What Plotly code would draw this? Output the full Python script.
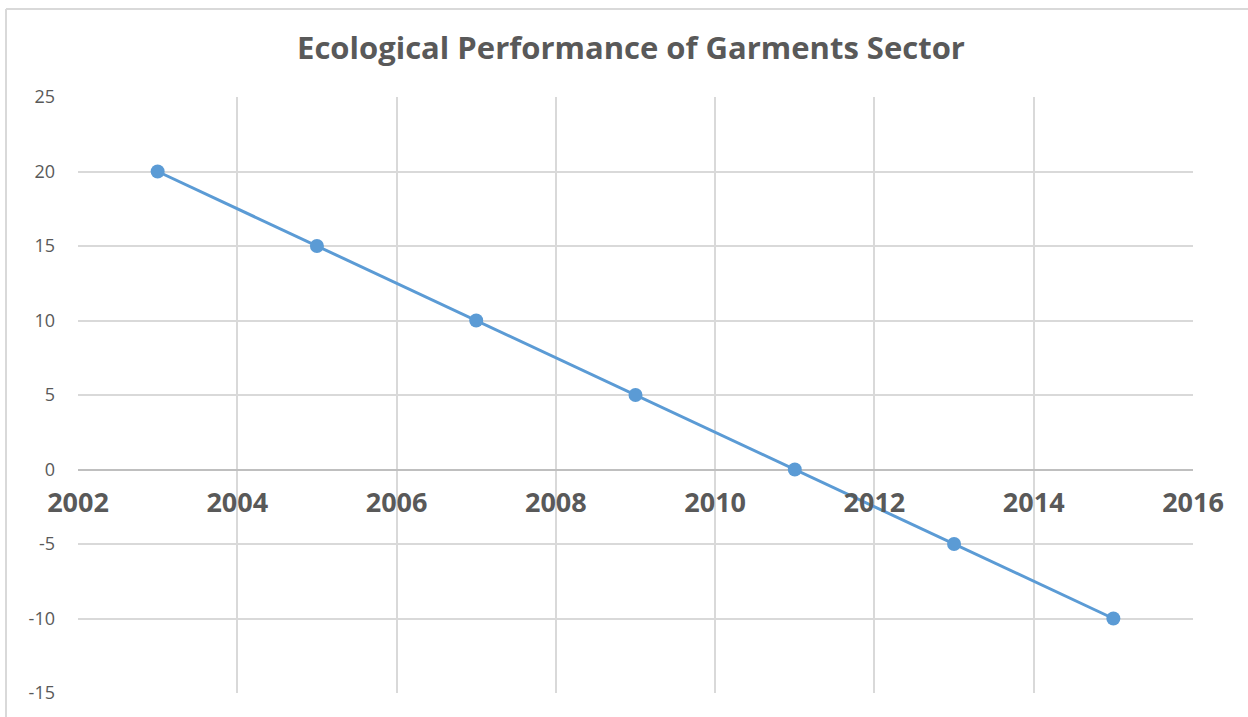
import plotly.graph_objects as go

years = [2003, 2005, 2007, 2009, 2011, 2013, 2015]
values = [20, 15, 10, 5, 0, -5, -10]
x_ticks = [2002, 2004, 2006, 2008, 2010, 2012, 2014, 2016]
y_ticks = [-15, -10, -5, 0, 5, 10, 15, 20, 25]
y_tick_text = ["-15", "-10", "-5", "0", "5", "10", "15", "20", "25"]
title_text = "Ecological Performance of Garments Sector"

W, H = 1248, 717
L, R, T, B = 78, 55, 97, 24
plot_w = W - L - R
plot_h = H - T - B

ymin, ymax = -15, 25
zero_frac = (0 - ymin) / (ymax - ymin)

fig = go.Figure()
fig.add_trace(go.Scatter(
    x=years, y=values, mode="lines+markers",
    line=dict(color="#5b9bd5", width=3),
    marker=dict(color="#5b9bd5", size=14),
    showlegend=False, hoverinfo="x+y",
))
# invisible trace on secondary x axis for the labels at y=0
fig.add_trace(go.Scatter(x=[x_ticks[0], x_ticks[-1]], y=[0, 0], xaxis="x2",
                         mode="markers", marker=dict(opacity=0), showlegend=False,
                         hoverinfo="skip"))

fig.update_layout(
    width=W, height=H,
    margin=dict(l=L, r=R, t=T, b=B),
    paper_bgcolor="white", plot_bgcolor="white",
    font=dict(family="Open Sans, Calibri, sans-serif", color="#595959"),
    title=dict(text=title_text, x=631 / W, xanchor="center",
               y=1 - 48 / H, yanchor="middle", yref="container",
               font=dict(size=31, color="#595959", family="Open Sans", weight="bold")),
    xaxis=dict(range=[x_ticks[0], x_ticks[-1]], tickvals=x_ticks, showticklabels=False,
               showgrid=True, gridcolor="#d9d9d9", gridwidth=1.5, zeroline=False,
               showline=False, fixedrange=True),
    xaxis2=dict(range=[x_ticks[0], x_ticks[-1]], tickvals=x_ticks, overlaying="x",
                anchor="free", position=zero_frac, side="bottom",
                showgrid=False, zeroline=False, showline=False, ticklabelstandoff=14,
                tickfont=dict(size=27, color="#595959", family="Open Sans", weight="bold"),
                ticks="", fixedrange=True),
    yaxis=dict(range=[ymin, ymax], tickvals=y_ticks, ticktext=y_tick_text,
               showgrid=True, gridcolor="#d9d9d9",
               gridwidth=1.5, zeroline=True, zerolinecolor="#bfbfbf", zerolinewidth=1.5,
               showline=False, ticks="", ticklabelstandoff=22,
               tickfont=dict(size=18, color="#595959", family="Open Sans"),
               fixedrange=True),
)

# chart-area border (top and left edges visible)
bx = (6 - L) / plot_w
by = 1 + (T - 9) / plot_h
fig.add_shape(type="line", xref="paper", yref="paper", x0=bx, x1=1 + (R + 10) / plot_w,
              y0=by, y1=by, line=dict(color="#d9d9d9", width=2))
fig.add_shape(type="line", xref="paper", yref="paper", x0=bx, x1=bx,
              y0=by, y1=-(B + 10) / plot_h, line=dict(color="#d9d9d9", width=2))

fig.write_html("out.html", config={"displayModeBar": False},
               post_script="document.body.style.margin='0';document.body.style.overflow='hidden';")
